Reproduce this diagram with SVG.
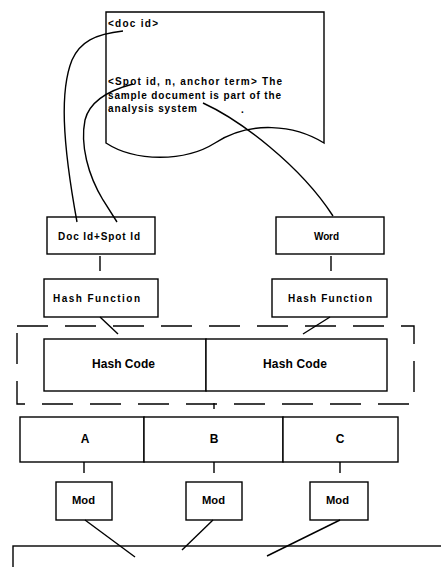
<svg xmlns="http://www.w3.org/2000/svg" width="441" height="567" viewBox="0 0 441 567">
<style>
.s{fill:#fff;stroke:#000;stroke-width:1.4}
.l{fill:none;stroke:#000;stroke-width:1.4}
.t{font-family:"Liberation Sans",Arial,sans-serif;font-size:10px;font-weight:bold;fill:#000}
.b{font-size:12px}
.c{text-anchor:middle}
</style>
<rect width="441" height="567" fill="#fff"/>
<g id="document">
<path class="s" d="M106,12 L324,12 L324,143 C295,125 250,120 215,143 C185,162 135,162 106,143 Z"/>
<text class="t" x="108" y="27" textLength="50" lengthAdjust="spacing">&lt;doc id&gt;</text>
<text class="t" x="108" y="85" textLength="174" lengthAdjust="spacing">&lt;Spot id, n, anchor term&gt; The</text>
<text class="t" x="108" y="99" textLength="173" lengthAdjust="spacing">sample document is part of the</text>
<text class="t" x="108" y="112" textLength="89" lengthAdjust="spacing">analysis system</text>
<text class="t" x="241" y="113">.</text>
</g>
<g id="docid">
<rect class="s" x="47" y="217" width="108" height="37"/>
<text class="t" x="58" y="240" textLength="82" lengthAdjust="spacing">Doc Id+Spot Id</text>
</g>
<g id="word">
<rect class="s" x="276" y="217" width="108" height="37"/>
<text class="t" x="314" y="240" textLength="25" lengthAdjust="spacing">Word</text>
</g>
<g id="hash1">
<rect class="s" x="44" y="279" width="114" height="38"/>
<text class="t" x="53" y="302" textLength="87" lengthAdjust="spacing">Hash Function</text>
</g>
<g id="hash2">
<rect class="s" x="272" y="279" width="115" height="38"/>
<text class="t" x="288" y="302" textLength="84" lengthAdjust="spacing">Hash Function</text>
</g>
<g id="group">
<rect x="17" y="326" width="397" height="78" fill="none" stroke="#000" stroke-width="1.4" stroke-dasharray="31 17"/>
</g>
<g id="code1">
<rect class="s" x="44" y="339" width="162" height="52"/>
<text class="t b" x="92" y="368" textLength="63" lengthAdjust="spacing">Hash Code</text>
</g>
<g id="code2">
<rect class="s" x="206" y="339" width="181" height="52"/>
<text class="t b" x="263" y="368" textLength="64" lengthAdjust="spacing">Hash Code</text>
</g>
<g id="A">
<rect class="s" x="20" y="417" width="124" height="45"/>
<text class="t b c" x="85" y="443">A</text>
</g>
<g id="B">
<rect class="s" x="144" y="417" width="139" height="45"/>
<text class="t b c" x="214" y="443">B</text>
</g>
<g id="C">
<rect class="s" x="283" y="417" width="115" height="45"/>
<text class="t b c" x="340" y="443">C</text>
</g>
<g id="mod1">
<rect class="s" x="56" y="482" width="56" height="38"/>
<text class="t" x="72" y="504" textLength="23" lengthAdjust="spacingAndGlyphs">Mod</text>
</g>
<g id="mod2">
<rect class="s" x="186" y="482" width="56" height="38"/>
<text class="t" x="202" y="504" textLength="23" lengthAdjust="spacingAndGlyphs">Mod</text>
</g>
<g id="mod3">
<rect class="s" x="310" y="482" width="58" height="38"/>
<text class="t" x="326" y="504" textLength="23" lengthAdjust="spacingAndGlyphs">Mod</text>
</g>
<g id="output">
<rect class="s" x="13" y="546" width="440" height="40"/>
</g>
<g id="connectors">
<path class="l" d="M123,31 C95,34 80,42 72,60 C60,90 62,140 77,222"/>
<path class="l" d="M133,84 C110,90 90,100 85,120 C80,145 88,175 103,200 L117,222"/>
<path class="l" d="M203,103 C240,120 300,165 333,216"/>
<line class="l" x1="100" y1="256" x2="100" y2="271"/>
<line class="l" x1="331" y1="256" x2="331" y2="271"/>
<line class="l" x1="100" y1="317" x2="118" y2="334"/>
<line class="l" x1="330" y1="317" x2="303" y2="334"/>
<line class="l" x1="214" y1="403" x2="214" y2="409"/>
<line class="l" x1="84" y1="462" x2="84" y2="473"/>
<line class="l" x1="214" y1="462" x2="214" y2="473"/>
<line class="l" x1="340" y1="462" x2="340" y2="473"/>
<line class="l" x1="85" y1="520" x2="135" y2="557"/>
<line class="l" x1="213" y1="520" x2="182" y2="550"/>
<line class="l" x1="340" y1="520" x2="267" y2="556"/>
</g>
</svg>
